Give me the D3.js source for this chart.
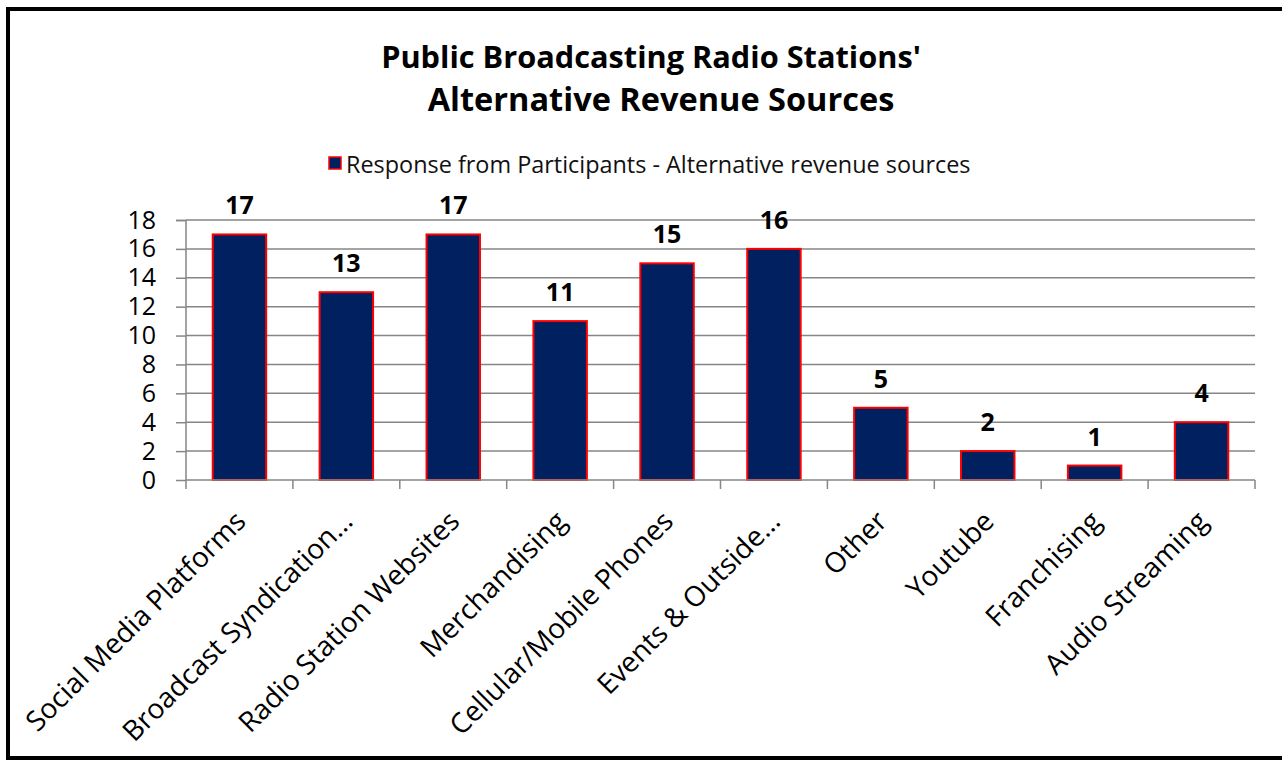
<!DOCTYPE html>
<html>
<head>
<meta charset="utf-8">
<script src="https://cdn.jsdelivr.net/npm/d3@7"></script>
<style>
  body { margin: 0; background: #fff; }
  svg { display: block; font-family: "Open Sans", sans-serif; }
</style>
</head>
<body>
<svg id="chart" width="1282" height="760"></svg>
<script>
const categories = ["Social Media Platforms", "Broadcast Syndication…", "Radio Station Websites",
  "Merchandising", "Cellular/Mobile Phones", "Events & Outside…", "Other", "Youtube",
  "Franchising", "Audio Streaming"];
const responses = [17, 13, 17, 11, 15, 16, 5, 2, 1, 4];
const yTicks = [0, 2, 4, 6, 8, 10, 12, 14, 16, 18];
const titleLines = ["Public Broadcasting Radio Stations'", "Alternative Revenue Sources"];
const legendLabel = "Response from Participants - Alternative revenue sources";

const svg = d3.select("#chart");
const margin = { top: 220, right: 27, bottom: 280, left: 186 };
const width = +svg.attr("width");
const height = +svg.attr("height");
const plotWidth = width - margin.left - margin.right;
const plotHeight = height - margin.top - margin.bottom;

// frame (cropped on the right)
svg.append("path")
  .attr("d", `M1282,9 H8 V758 H1282`)
  .attr("fill", "none")
  .attr("stroke", "#000")
  .attr("stroke-width", 4);

// fit text to a target width
function fit(sel, target) {
  const w = sel.node().getComputedTextLength();
  const fs = parseFloat(sel.attr("font-size"));
  sel.attr("font-size", fs * target / w);
}

// title
fit(svg.append("text").attr("x", 651).attr("y", 68).attr("text-anchor", "middle")
  .attr("font-size", 30).attr("font-weight", "bold").text(titleLines[0]), 540);
fit(svg.append("text").attr("x", 661).attr("y", 111).attr("text-anchor", "middle")
  .attr("font-size", 30).attr("font-weight", "bold").text(titleLines[1]), 467);

// legend
svg.append("rect")
  .attr("x", 329).attr("y", 157).attr("width", 12).attr("height", 12)
  .attr("fill", "#002060").attr("stroke", "#ff0000").attr("stroke-width", 1.5);
fit(svg.append("text").attr("x", 346).attr("y", 173)
  .attr("font-size", 20).attr("fill", "#111").text(legendLabel), 625);

const g = svg.append("g")
  .attr("transform", `translate(${margin.left},${margin.top})`);

const x = d3.scaleBand().domain(categories).range([0, plotWidth]).paddingInner(0.5).paddingOuter(0.25);
const xb = d3.scaleBand().domain(categories).range([0, plotWidth]);
const y = d3.scaleLinear().domain([0, 18]).range([plotHeight, 0]);

// gridlines
g.selectAll(".grid")
  .data(yTicks.filter(d => d > 0))
  .join("line")
  .attr("x1", 0).attr("x2", plotWidth)
  .attr("y1", d => y(d)).attr("y2", d => y(d))
  .attr("stroke", "#868686").attr("stroke-width", 1.5);

// y axis
const yAxis = g.append("g")
  .call(d3.axisLeft(y).tickValues(yTicks).tickSize(10).tickPadding(20));
yAxis.selectAll("line, path").attr("stroke", "#868686").attr("stroke-width", 1.5);
yAxis.select(".domain").attr("d", `M-10,0.5H0V${plotHeight}`);
yAxis.selectAll("text").attr("font-size", 25).attr("font-family", "Open Sans").attr("fill", "#000");

// bars
g.selectAll(".bar")
  .data(responses)
  .join("rect")
  .attr("x", (d, i) => x(categories[i]))
  .attr("y", d => y(d))
  .attr("width", x.bandwidth())
  .attr("height", d => plotHeight - y(d))
  .attr("fill", "#002060")
  .attr("stroke", "#ff0000")
  .attr("stroke-width", 2);

// x axis
const xAxisG = g.append("g").attr("transform", `translate(0,${plotHeight})`);
xAxisG.append("line").attr("x1", 0).attr("x2", plotWidth)
  .attr("stroke", "#868686").attr("stroke-width", 1.5);
xAxisG.selectAll(".tk")
  .data(d3.range(categories.length + 1))
  .join("line")
  .attr("x1", i => i * xb.step()).attr("x2", i => i * xb.step())
  .attr("y1", 0).attr("y2", 9)
  .attr("stroke", "#868686").attr("stroke-width", 1.5);

xAxisG.selectAll(".cat")
  .data(categories)
  .join("text")
  .attr("text-anchor", "end")
  .attr("font-size", 28)
  .attr("transform", d => `translate(${xb(d) + xb.bandwidth() / 2 + 8},${43}) rotate(-45)`)
  .text(d => d);

// value labels
g.selectAll(".val")
  .data(responses)
  .join("text")
  .attr("x", (d, i) => x(categories[i]) + x.bandwidth() / 2)
  .attr("y", d => y(d) - 20)
  .attr("text-anchor", "middle")
  .attr("font-size", 25)
  .attr("font-weight", "bold")
  .text(d => d);
</script>
</body>
</html>
